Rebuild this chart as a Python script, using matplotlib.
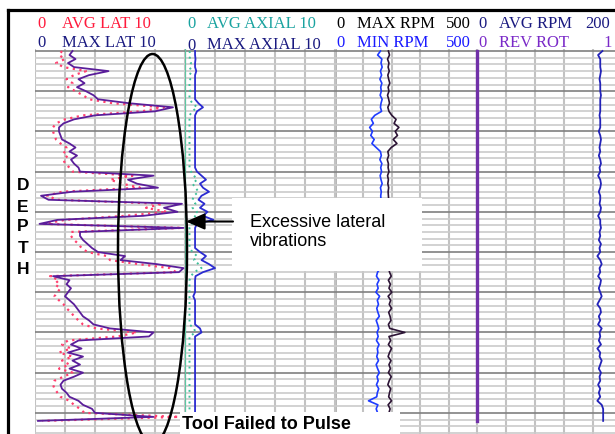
import numpy as np
import matplotlib.pyplot as plt
from matplotlib.patches import Ellipse, Rectangle, FancyArrowPatch
from matplotlib.lines import Line2D

# depth index (ft), one sample every 6 ft
depth = np.arange(93) * 6

# track 1: lateral vibration (0-10)
max_lat = [2.5, 2.3, 2.7, 2.2, 2.6, 4.9, 3.6, 2.9, 3.3, 2.8,
           3.4, 3.9, 4.2, 6.3, 9.2, 8.0, 4.0, 2.6, 1.9, 1.6,
           1.6, 1.7, 1.8, 2.3, 2.7, 2.3, 2.8, 2.4, 2.6, 2.9,
           3.0, 7.9, 6.2, 6.8, 8.2, 2.5, 0.4, 0.9, 9.8, 8.6,
           9.5, 7.2, 1.5, 0.3, 9.9, 3.0, 3.0, 3.2, 3.5, 3.8,
           4.2, 6.0, 5.7, 8.1, 9.9, 9.6, 1.2, 2.3, 2.1, 2.4,
           2.2, 2.0, 2.3, 2.6, 2.8, 3.0, 3.2, 3.6, 3.9, 5.0,
           7.9, 7.6, 2.9, 2.4, 3.1, 2.2, 3.2, 2.5, 3.0, 2.3,
           3.2, 2.6, 1.9, 1.7, 1.8, 2.1, 2.3, 2.9, 3.2, 3.8,
           4.0, 7.9, 0.2]
avg_lat = [1.8, 1.6, 2.0, 1.4, 1.9, 3.4, 2.6, 2.1, 2.5, 2.2,
           2.7, 3.2, 3.6, 5.2, 8.6, 7.1, 3.2, 2.0, 1.4, 1.2,
           1.2, 1.3, 1.4, 1.7, 2.1, 1.9, 2.2, 1.9, 2.0, 2.3,
           2.5, 6.5, 5.0, 5.8, 7.0, 1.8, 0.8, 1.5, 8.5, 7.4,
           8.8, 6.0, 2.0, 0.6, 9.8, 2.4, 2.4, 2.6, 2.9, 3.1,
           3.5, 4.8, 5.0, 6.9, 9.0, 9.4, 1.0, 1.6, 1.3, 1.7,
           1.5, 1.3, 1.6, 1.9, 2.1, 2.4, 2.6, 2.9, 3.2, 4.1,
           6.8, 5.5, 2.2, 1.8, 2.4, 1.6, 2.5, 1.8, 2.3, 1.6,
           2.5, 1.9, 1.3, 1.2, 1.3, 1.5, 1.7, 2.3, 2.6, 3.0,
           3.3, 9.6, 0.5]

# track 2: axial vibration (0-10)
max_axial = [0.67, 0.67, 0.7, 0.67, 0.67, 0.75, 0.67, 0.67, 0.67, 0.67,
             0.67, 0.67, 0.67, 0.9, 1.2, 0.8, 0.67, 0.67, 0.67, 0.67,
             0.67, 0.67, 0.67, 0.67, 0.67, 0.67, 0.67, 0.67, 0.67, 0.67,
             0.8, 1.1, 1.4, 1.0, 1.2, 1.6, 1.1, 0.9, 1.3, 1.0,
             1.5, 1.2, 1.9, 0.8, 0.67, 0.67, 0.67, 0.67, 0.67, 0.67,
             1.0, 1.4, 1.1, 1.6, 2.0, 1.2, 0.7, 0.67, 0.67, 0.67,
             0.67, 0.55, 0.67, 0.67, 0.67, 0.67, 0.67, 0.67, 0.67, 1.0,
             1.1, 0.67, 0.67, 0.67, 0.67, 0.67, 0.67, 0.67, 0.67, 0.67,
             0.67, 0.67, 0.67, 0.67, 0.67, 0.67, 0.67, 0.67, 0.67, 0.67,
             0.67]
avg_axial = [0.3, 0.35, 0.3, 0.4, 0.3, 0.45, 0.3, 0.35, 0.3, 0.3,
             0.35, 0.3, 0.3, 0.5, 0.8, 0.5, 0.3, 0.3, 0.3, 0.3,
             0.3, 0.3, 0.3, 0.3, 0.3, 0.3, 0.3, 0.3, 0.3, 0.3,
             0.4, 0.6, 0.8, 0.5, 0.7, 0.9, 0.6, 0.5, 0.7, 0.5,
             0.8, 0.6, 1.1, 0.4, 0.3, 0.3, 0.3, 0.3, 0.3, 0.3,
             0.5, 0.8, 0.6, 0.9, 1.1, 0.6, 0.4, 0.3, 0.3, 0.3,
             0.3, 0.3, 0.3, 0.3, 0.3, 0.3, 0.3, 0.3, 0.3, 0.6,
             0.7, 0.3, 0.3, 0.3, 0.3, 0.3, 0.3, 0.3, 0.3, 0.3,
             0.3, 0.3, 0.3, 0.3, 0.3, 0.3, 0.3, 0.3, 0.3, 0.3,
             0.3]

# track 3: rpm (0-500)
max_rpm = [188, 192, 185, 190, 187, 191, 186, 189, 193, 187,
           190, 185, 189, 192, 186, 190, 200, 215, 208, 225,
           212, 220, 205, 218, 198, 186, 189, 184, 188, 187,
           190, 185, 188, 186, 189, 187, 188, 189, 186, 190,
           187, 188, 185, 189, 191, 186, 188, 190, 187, 189,
           186, 188, 190, 187, 189, 192, 198, 188, 195, 190,
           200, 187, 196, 191, 199, 189, 194, 197, 188, 193,
           246, 190, 196, 188, 199, 192, 187, 197, 190, 195,
           188, 198, 191, 186, 196, 192, 189, 199, 187, 194,
           190]
min_rpm = [160, 150, 165, 162, 166, 160, 164, 158, 165, 161,
           163, 159, 166, 162, 160, 164, 140, 128, 135, 122,
           132, 126, 138, 130, 145, 160, 163, 158, 165, 161,
           164, 159, 162, 166, 160, 163, 161, 162, 159, 164,
           160, 163, 158, 161, 165, 160, 162, 159, 163, 161,
           160, 164, 158, 162, 160, 150, 146, 155, 148, 152,
           144, 157, 149, 153, 147, 151, 156, 145, 150, 154,
           148, 152, 146, 155, 149, 151, 147, 153, 145, 150,
           156, 148, 152, 146, 154, 149, 147, 118, 151, 145,
           150]

# track 4: average rpm (0-200) and reverse rotation flag (0-1)
avg_rpm = [173, 167, 170, 170, 170, 171, 170, 169, 170, 170,
           170, 171, 170, 170, 170, 170, 169, 170, 170, 170,
           168, 170, 171, 170, 169, 170, 168, 170, 171, 169,
           170, 167, 170, 171, 170, 168, 170, 170, 169, 171,
           170, 167, 170, 170, 171, 169, 170, 168, 171, 169,
           170, 166, 170, 172, 169, 170, 167, 171, 170, 168,
           170, 172, 169, 166, 170, 171, 168, 170, 167, 172,
           169, 170, 168, 171, 166, 170, 169, 172, 170, 168,
           171, 169, 170, 167, 170, 168, 170, 166, 172, 174,
           174, 174, 174]
rev_rot = [0.0] * 93

W, H = 615, 435
fig = plt.figure(figsize=(6.15, 4.35), dpi=100)


def rect(x0, x1, y0, y1):
    return [x0 / W, 1 - y1 / H, (x1 - x0) / W, (y1 - y0) / H]


def setup(ax, lo, hi):
    ax.set_xlim(lo, hi)
    ax.set_ylim(579, -3)
    ax.set_xticks(np.linspace(lo, hi, 6))
    ax.set_yticks(np.arange(0, 580, 60))
    ax.set_yticks(np.arange(0, 580, 10), minor=True)
    ax.grid(True, axis='x', which='major', color='#c2c2c2', lw=1.5)
    ax.grid(True, axis='y', which='minor', color='#cbcbcb', lw=1.2)
    ax.grid(True, axis='y', which='major', color='#808080', lw=1.2)
    ax.tick_params(which='both', length=0, labelbottom=False, labelleft=False,
                   labeltop=False)
    for s in ax.spines.values():
        s.set_visible(False)
    ax.set_axisbelow(True)


ax1 = fig.add_axes(rect(35, 185, 50, 440))
ax2 = fig.add_axes(rect(185, 335, 50, 440))
ax3 = fig.add_axes(rect(335, 477, 50, 440))
ax4 = fig.add_axes(rect(477, 622, 50, 440))
setup(ax1, 0, 10)
setup(ax2, 0, 10)
setup(ax3, 0, 500)
setup(ax4, 0, 200)

# lateral
ax1.plot(avg_lat, depth[:len(avg_lat)], color='#ff3f6e', lw=1.6,
         ls=(0, (1, 2)))
ax1.plot(max_lat, depth[:len(max_lat)], color='#5a1e9a', lw=1.3)

# axial
ax2.vlines(0, -3, depth[len(max_axial) - 1], color='#5ec7a2', lw=1.6)
ax2.plot(avg_axial, depth[:len(avg_axial)], color='#3fbf9a', lw=1.4,
         ls=(0, (1, 2)))
ax2.plot(max_axial, depth[:len(max_axial)], color='#2b2bd0', lw=1.3)

# rpm
ax3.axvline(0, color='#a6a6a6', lw=2.6, zorder=0.5)
ax3.plot(min_rpm, depth[:len(min_rpm)], color='#1f3cff', lw=1.2)
ax3.plot(max_rpm, depth[:len(max_rpm)], color='#2c1435', lw=1.2)

ax4.plot(avg_rpm, depth[:len(avg_rpm)], color='#2222b8', lw=1.3)
ax4b = ax4.twiny()
ax4b.set_xlim(0, 1)
ax4b.set_xticks([])
for s in ax4b.spines.values():
    s.set_visible(False)
ax4b.plot(rev_rot, depth[:len(rev_rot)], color='#7030a8', lw=2.4,
          clip_on=False)

# header
serif = 'Liberation Serif'
hdr = [
    (37, 28, '0', '#ff1a3c'), (62, 28, 'AVG LAT 10', '#ff1a3c'),
    (37, 47, '0', '#1a1a80'), (62, 47, 'MAX LAT 10', '#1a1a80'),
    (187, 28, '0', '#1aa3a0'), (207, 28, 'AVG AXIAL 10', '#1aa3a0'),
    (187, 50, '0', '#1a1a80'), (207, 49, 'MAX AXIAL 10', '#1a1a80'),
    (336, 28, '0', 'black'), (357, 28, 'MAX RPM', 'black'),
    (446, 28, '500', 'black'),
    (336, 47, '0', '#1a1aff'), (357, 47, 'MIN RPM', '#1a1aff'),
    (446, 47, '500', '#1a1aff'),
    (478, 28, '0', '#1a1a80'), (499, 28, 'AVG RPM', '#1a1a80'),
    (585, 28, '200', '#1a1a80'),
    (478, 47, '0', '#7a2ac8'), (499, 47, 'REV ROT', '#7a2ac8'),
    (603, 47, '1', '#7a2ac8'),
]
for x, y, s, c in hdr:
    fig.text(x / W, 1 - y / H, s, color=c, fontsize=12, family=serif,
             va='baseline', ha='left')

# frame
fig.add_artist(Line2D([8 / W, 8 / W], [1 - 11 / H, 0], color='black', lw=2.3,
                      transform=fig.transFigure))
fig.add_artist(Line2D([8 / W, 1], [1 - 11 / H, 1 - 11 / H], color='black',
                      lw=2.3, transform=fig.transFigure))

# depth label
for ch, yc in zip('DEPTH', [185, 207, 227, 249, 270]):
    fig.text(23 / W, 1 - yc / H, ch, ha='center', va='center', fontsize=12.5,
             weight='bold', family='Liberation Sans')

# annotations
fig.add_artist(Ellipse((152.5 / W, 1 - 250 / H), 69 / W, 390 / H,
                       transform=fig.transFigure, fill=False, ec='black',
                       lw=1.8, zorder=4))
fig.add_artist(Rectangle((232 / W, 1 - 272 / H), 190 / W, 73 / H,
                         transform=fig.transFigure, fc='white', ec='none',
                         zorder=5))
fig.text(250 / W, 1 - 232 / H, 'Excessive lateral\nvibrations', fontsize=13,
         family='Liberation Sans', va='center', ha='left', zorder=6,
         linespacing=1.15)
fig.add_artist(FancyArrowPatch((233 / W, 1 - 222.5 / H), (186 / W, 1 - 222.5 / H),
                               transform=fig.transFigure,
                               arrowstyle='-|>,head_length=1.15,head_width=0.5',
                               mutation_scale=10, lw=1.5, color='black',
                               shrinkA=0, shrinkB=0, zorder=6))
fig.add_artist(Rectangle((180 / W, 1 - 440 / H), 220 / W, 27 / H,
                         transform=fig.transFigure, fc='white', ec='none',
                         zorder=5))
fig.text(182 / W, 1 - 425 / H, 'Tool Failed to Pulse', fontsize=13,
         weight='bold', family='Liberation Sans', va='center', ha='left',
         zorder=6)

fig.savefig('out.png', dpi=100)
